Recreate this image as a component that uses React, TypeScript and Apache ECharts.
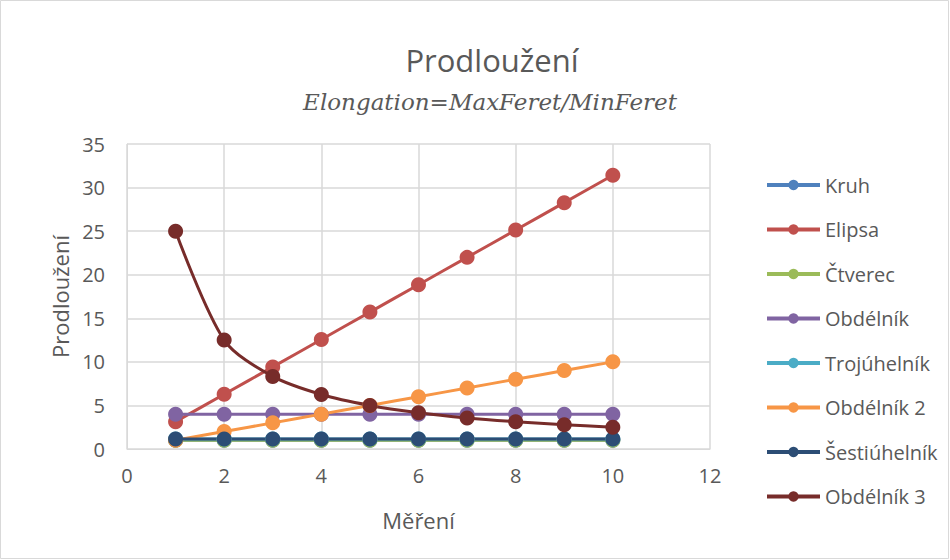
import React, { useEffect, useRef } from "react";
import * as echarts from "echarts";

const xValues = [1, 2, 3, 4, 5, 6, 7, 8, 9, 10];
const seriesNames = ["Kruh", "Elipsa", "Čtverec", "Obdélník", "Trojúhelník", "Obdélník 2", "Šestiúhelník", "Obdélník 3"];
const kruh = [1, 1, 1, 1, 1, 1, 1, 1, 1, 1];
const elipsa = [3.14, 6.28, 9.42, 12.57, 15.71, 18.85, 21.99, 25.13, 28.27, 31.42];
const ctverec = [1, 1, 1, 1, 1, 1, 1, 1, 1, 1];
const obdelnik = [4, 4, 4, 4, 4, 4, 4, 4, 4, 4];
const trojuhelnik = [1.15, 1.15, 1.15, 1.15, 1.15, 1.15, 1.15, 1.15, 1.15, 1.15];
const obdelnik2 = [1, 2, 3, 4, 5, 6, 7, 8, 9, 10];
const sestiuhelnik = [1.15, 1.15, 1.15, 1.15, 1.15, 1.15, 1.15, 1.15, 1.15, 1.15];
const obdelnik3 = [25, 12.5, 8.33, 6.25, 5, 4.17, 3.57, 3.13, 2.78, 2.5];
const colors = ["#4f81bd", "#c0504d", "#9bbb59", "#8064a2", "#4bacc6", "#f79646", "#2c4d75", "#772c2a"];

export default function App() {
  const ref = useRef<HTMLDivElement>(null);
  useEffect(() => {
    if (!ref.current) return;
    const chart = echarts.init(ref.current, null, { renderer: "svg" });
    const data = [kruh, elipsa, ctverec, obdelnik, trojuhelnik, obdelnik2, sestiuhelnik, obdelnik3];
    const series = seriesNames.map((name, i) => ({
      name,
      type: "line",
      data: xValues.map((x, j) => [x, data[i][j]]),
      smooth: 0.3,
      symbol: "circle",
      symbolSize: 15,
      showSymbol: true,
      lineStyle: { width: 3, color: colors[i] },
      itemStyle: { color: colors[i] },
    }));
    chart.setOption({
      animation: false,
      backgroundColor: "#ffffff",
      title: [
        {
          text: "Prodloužení",
          left: 487,
          top: 39,
          textAlign: "center",
          textStyle: { fontFamily: "Open Sans", fontSize: 31, fontWeight: "normal", color: "#595959" },
        },
        {
          text: "Elongation=MaxFeret/MinFeret",
          left: 485,
          top: 85,
          textAlign: "center",
          textStyle: { fontFamily: "DejaVu Serif", fontStyle: "italic", fontSize: 23, fontWeight: "normal", color: "#595959" },
        },
      ],
      graphic: [
        {
          type: "rect",
          shape: { x: 0.5, y: 0.5, width: 948, height: 558 },
          style: { fill: "none", stroke: "#d9d9d9", lineWidth: 1 },
        },
      ],
      legend: {
        orient: "vertical",
        left: 760,
        top: 170,
        itemWidth: 53,
        itemHeight: 13,
        itemGap: 24.5,
        data: seriesNames,
        lineStyle: { width: 4 },
        textStyle: { fontFamily: "Open Sans", fontSize: 20, color: "#595959" },
      },
      grid: { left: 127, right: 240, top: 144, bottom: 111 },
      xAxis: {
        type: "value",
        min: 0,
        max: 12,
        interval: 2,
        name: "Měření",
        nameLocation: "middle",
        nameGap: 60,
        nameTextStyle: { fontFamily: "Open Sans", fontSize: 22, color: "#595959" },
        axisLine: { show: true, lineStyle: { color: "#d9d9d9" } },
        axisTick: { show: false },
        axisLabel: { fontFamily: "Open Sans", fontSize: 20, color: "#595959", margin: 16 },
        splitLine: { show: true, lineStyle: { color: "#d9d9d9", width: 1.5 } },
      },
      yAxis: {
        type: "value",
        min: 0,
        max: 35,
        interval: 5,
        name: "Prodloužení",
        nameLocation: "middle",
        nameGap: 54,
        nameTextStyle: { fontFamily: "Open Sans", fontSize: 22, color: "#595959" },
        axisLine: { show: true, lineStyle: { color: "#d9d9d9" } },
        axisTick: { show: false },
        axisLabel: { fontFamily: "Open Sans", fontSize: 20, color: "#595959", margin: 22 },
        splitLine: { show: true, lineStyle: { color: "#d9d9d9", width: 1.5 } },
      },
      series,
    });
    return () => chart.dispose();
  }, []);
  return <div ref={ref} style={{ position: "fixed", left: 0, top: 0, width: 950, height: 560 }} />;
}
